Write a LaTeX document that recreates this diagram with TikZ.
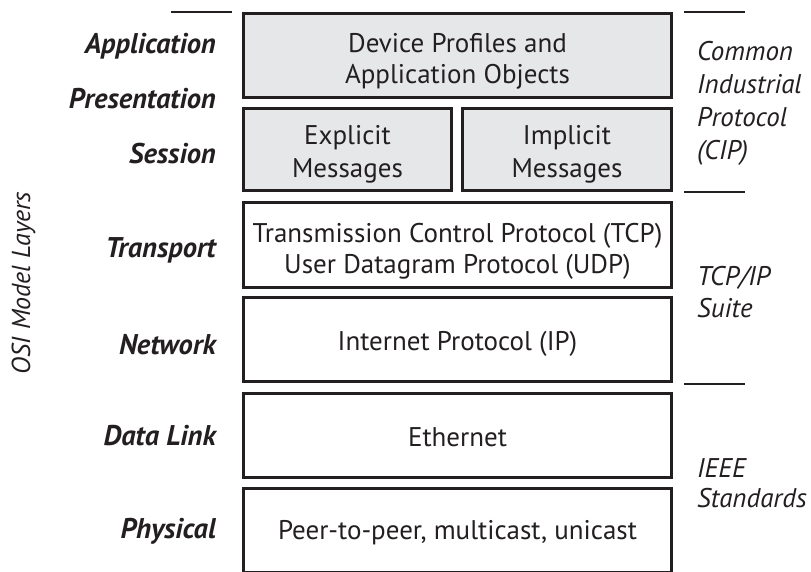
\documentclass[tikz,border=0pt]{standalone}
\usepackage{fontspec}
\setmainfont{PT Sans}
\definecolor{ink}{HTML}{231F20}
\definecolor{boxfill}{HTML}{E6E7E8}
\begin{document}
\begin{tikzpicture}[x=1pt,y=-1pt,
  layerbox/.style={draw=ink, line width=2.6pt, fill=#1, inner sep=0pt},
  layerbox/.default=white,
  boxtxt/.style={anchor=base, text=ink, inner sep=0pt,
    font=\fontsize{27}{31}\selectfont},
  osilbl/.style={anchor=base east, text=ink, inner sep=0pt,
    font=\fontsize{28.5}{31}\selectfont\bfseries\itshape},
  grplbl/.style={anchor=base west, text=ink, inner sep=0pt,
    font=\fontsize{27}{31}\selectfont\itshape},
  rule/.style={draw=ink, line width=2pt}]
\useasboundingbox (0,0) rectangle (811,572);
\clip (0,0) rectangle (811,572);

% layer boxes
\node[layerbox=boxfill, minimum width=428.4, minimum height=84.4] (app) at (457.5,55.5) {};
\node[layerbox=boxfill, minimum width=208.4, minimum height=82.4] (expl) at (347.5,149.5) {};
\node[layerbox=boxfill, minimum width=209.4, minimum height=82.4] (impl) at (567,149.5) {};
\node[layerbox, minimum width=428.4, minimum height=85.4] (tcp) at (457.5,245) {};
\node[layerbox, minimum width=428.4, minimum height=84.4] (ip) at (457.5,339.5) {};
\node[layerbox, minimum width=428.4, minimum height=84.4] (eth) at (457.5,435.5) {};
\node[layerbox, minimum width=428.4, minimum height=84.4] (phy) at (457.5,530.5) {};

% box texts
\node[boxtxt] (app1) at (457.5,53) {Device Profiles and};
\node[boxtxt] (app2) at (457.5,84) {Application Objects};
\node[boxtxt] (expl1) at (347.5,145) {Explicit};
\node[boxtxt] (expl2) at (347.5,178) {Messages};
\node[boxtxt] (impl1) at (567,145) {Implicit};
\node[boxtxt] (impl2) at (567,178) {Messages};
\node[boxtxt] (tcp1) at (457.5,242) {Transmission Control Protocol (TCP)};
\node[boxtxt] (tcp2) at (457.5,273) {User Datagram Protocol (UDP)};
\node[boxtxt] (ip1) at (457.5,350) {Internet Protocol (IP)};
\node[boxtxt] (eth1) at (457.5,446) {Ethernet};
\node[boxtxt] (phy1) at (457.5,539) {Peer-to-peer, multicast, unicast};

% OSI layer names
\node[osilbl] (lapp) at (216,54) {Application};
\node[osilbl] (lpre) at (216,109) {Presentation};
\node[osilbl] (lses) at (216,164) {Session};
\node[osilbl] (ltra) at (216,258) {Transport};
\node[osilbl] (lnet) at (216,354) {Network};
\node[osilbl] (ldat) at (216,445) {Data Link};
\node[osilbl] (lphy) at (216,538) {Physical};

\node[rotate=90, anchor=base, inner sep=0pt, text=ink,
  font=\fontsize{26}{30}\selectfont\itshape] (osi) at (30,283) {OSI Model Layers};

% group labels
\node[grplbl] (g1) at (697,61) {Common};
\node[grplbl] (g2) at (697,94) {Industrial};
\node[grplbl] (g3) at (697,127) {Protocol};
\node[grplbl] (g4) at (697,160) {(CIP)};
\node[grplbl] (g5) at (697,285) {TCP/IP};
\node[grplbl] (g6) at (697,317) {Suite};
\node[grplbl] (g7) at (697,477) {IEEE};
\node[grplbl] (g8) at (697,507) {Standards};

% separator rules
\draw[rule] (171,12) -- (232,12);
\draw[rule] (684,12) -- (745,12);
\draw[rule] (684,192) -- (745,192);
\draw[rule] (684,384) -- (745,384);
\end{tikzpicture}
\end{document}
